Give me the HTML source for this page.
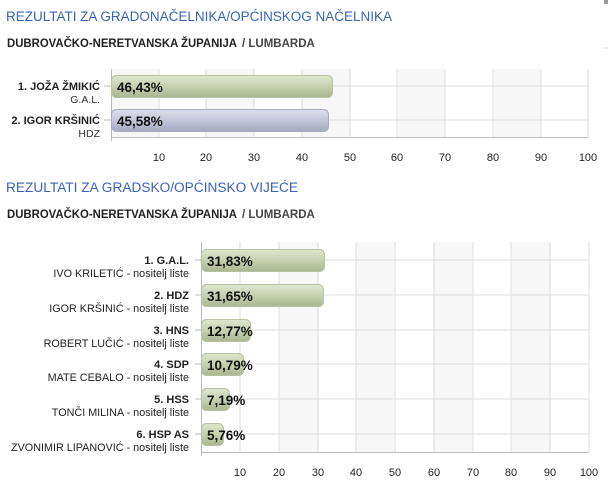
<!DOCTYPE html>
<html><head><meta charset="utf-8"><style>
body{margin:0;background:#fff;width:608px;height:483px;overflow:hidden}
svg text{font-family:"Liberation Sans",Arial,sans-serif}
</style></head><body>
<svg width="608" height="483" xmlns="http://www.w3.org/2000/svg">
<defs>
<linearGradient id="g" x1="0" y1="0" x2="0" y2="1"><stop offset="0" stop-color="#dfe6cf"/><stop offset="0.5" stop-color="#c5d0af"/><stop offset="1" stop-color="#a9b690"/></linearGradient>
<linearGradient id="b" x1="0" y1="0" x2="0" y2="1"><stop offset="0" stop-color="#dcdeea"/><stop offset="0.5" stop-color="#c3c6d8"/><stop offset="1" stop-color="#a5a9be"/></linearGradient>
</defs>
<text x="6" y="21" font-size="13.5" fill="#3a63b8" textLength="386" lengthAdjust="spacingAndGlyphs">REZULTATI ZA GRADONAČELNIKA/OPĆINSKOG NAČELNIKA</text>
<text x="7" y="47" font-size="11.5" font-weight="bold" fill="#222" textLength="230" lengthAdjust="spacingAndGlyphs">DUBROVAČKO-NERETVANSKA ŽUPANIJA</text>
<text x="242" y="47" font-size="11.5" font-weight="bold" fill="#444">/ LUMBARDA</text>
<!-- chart 1 -->
<g>
<rect x="111" y="69" width="477" height="68" fill="#fff"/>
<rect x="111" y="69" width="48" height="68" fill="#f7f7f7"/>
<rect x="206" y="69" width="48" height="68" fill="#f7f7f7"/>
<rect x="302" y="69" width="48" height="68" fill="#f7f7f7"/>
<rect x="397" y="69" width="48" height="68" fill="#f7f7f7"/>
<rect x="493" y="69" width="48" height="68" fill="#f7f7f7"/>
<g stroke="#ddd" stroke-width="1">
<line x1="159" y1="69" x2="159" y2="137"/><line x1="206" y1="69" x2="206" y2="137"/><line x1="254" y1="69" x2="254" y2="137"/><line x1="302" y1="69" x2="302" y2="137"/><line x1="350" y1="69" x2="350" y2="137"/><line x1="397" y1="69" x2="397" y2="137"/><line x1="445" y1="69" x2="445" y2="137"/><line x1="493" y1="69" x2="493" y2="137"/><line x1="541" y1="69" x2="541" y2="137"/><line x1="588" y1="69" x2="588" y2="137"/>
<line x1="111" y1="86" x2="588" y2="86"/><line x1="111" y1="120" x2="588" y2="120"/>
</g>
<line x1="111.5" y1="69" x2="111.5" y2="141" stroke="#bbb"/>
<line x1="111" y1="137.5" x2="588" y2="137.5" stroke="#bbb"/>
<line x1="104" y1="86" x2="111" y2="86" stroke="#bbb"/><line x1="104" y1="120" x2="111" y2="120" stroke="#bbb"/>
<rect x="111.5" y="75.5" width="221" height="22" rx="5" fill="url(#g)" stroke="#b7c2a0"/>
<rect x="111.5" y="109.5" width="217" height="22" rx="5" fill="url(#b)" stroke="#a9adc0"/>
<text x="117" y="92" font-size="13.5" font-weight="bold" fill="#111">46,43%</text>
<text x="117" y="126" font-size="13.5" font-weight="bold" fill="#111">45,58%</text>
<g text-anchor="end">
<text x="100" y="90" font-size="11" font-weight="bold" fill="#222">1. JOŽA ŽMIKIĆ</text>
<text x="100" y="103" font-size="10.5" fill="#333">G.A.L.</text>
<text x="100" y="124" font-size="11" font-weight="bold" fill="#222">2. IGOR KRŠINIĆ</text>
<text x="100" y="137" font-size="10.5" fill="#333">HDZ</text>
</g>
<g font-size="11" fill="#222" text-anchor="middle">
<text x="159" y="161">10</text><text x="206" y="161">20</text><text x="254" y="161">30</text><text x="302" y="161">40</text><text x="350" y="161">50</text><text x="397" y="161">60</text><text x="445" y="161">70</text><text x="493" y="161">80</text><text x="541" y="161">90</text><text x="588" y="161">100</text>
</g>
</g>
<text x="6" y="192" font-size="13.5" fill="#3a63b8" textLength="292" lengthAdjust="spacingAndGlyphs">REZULTATI ZA GRADSKO/OPĆINSKO VIJEĆE</text>
<text x="7" y="218" font-size="11.5" font-weight="bold" fill="#222" textLength="230" lengthAdjust="spacingAndGlyphs">DUBROVAČKO-NERETVANSKA ŽUPANIJA</text>
<text x="242" y="218" font-size="11.5" font-weight="bold" fill="#444">/ LUMBARDA</text>
<!-- chart 2 -->
<g>
<rect x="201" y="242" width="388" height="210" fill="#fff"/>
<rect x="279" y="242" width="39" height="210" fill="#f7f7f7"/>
<rect x="356" y="242" width="39" height="210" fill="#f7f7f7"/>
<rect x="434" y="242" width="39" height="210" fill="#f7f7f7"/>
<rect x="511" y="242" width="39" height="210" fill="#f7f7f7"/>
<g stroke="#ddd">
<line x1="240" y1="242" x2="240" y2="452"/><line x1="279" y1="242" x2="279" y2="452"/><line x1="318" y1="242" x2="318" y2="452"/><line x1="356" y1="242" x2="356" y2="452"/><line x1="395" y1="242" x2="395" y2="452"/><line x1="434" y1="242" x2="434" y2="452"/><line x1="473" y1="242" x2="473" y2="452"/><line x1="511" y1="242" x2="511" y2="452"/><line x1="550" y1="242" x2="550" y2="452"/><line x1="589" y1="242" x2="589" y2="452"/>
<line x1="201" y1="260" x2="589" y2="260"/><line x1="201" y1="295" x2="589" y2="295"/><line x1="201" y1="330" x2="589" y2="330"/><line x1="201" y1="364" x2="589" y2="364"/><line x1="201" y1="399" x2="589" y2="399"/><line x1="201" y1="434" x2="589" y2="434"/>
</g>
<line x1="201.5" y1="242" x2="201.5" y2="456" stroke="#bbb"/>
<line x1="201" y1="452.5" x2="589" y2="452.5" stroke="#bbb"/>
<g stroke="#bbb"><line x1="195" y1="260" x2="201" y2="260"/><line x1="195" y1="295" x2="201" y2="295"/><line x1="195" y1="330" x2="201" y2="330"/><line x1="195" y1="364" x2="201" y2="364"/><line x1="195" y1="399" x2="201" y2="399"/><line x1="195" y1="434" x2="201" y2="434"/></g>
<g fill="url(#g)" stroke="#b7c2a0">
<rect x="201.5" y="249.5" width="123" height="22" rx="5"/>
<rect x="201.5" y="284.5" width="122" height="22" rx="5"/>
<rect x="201.5" y="319.5" width="49" height="22" rx="5"/>
<rect x="201.5" y="353.5" width="42" height="22" rx="5"/>
<rect x="201.5" y="388.5" width="28" height="22" rx="5"/>
<rect x="201.5" y="423.5" width="22" height="22" rx="5"/>
</g>
<g font-size="13.5" font-weight="bold" fill="#111">
<text x="207" y="266">31,83%</text><text x="207" y="301">31,65%</text><text x="207" y="336">12,77%</text><text x="207" y="370">10,79%</text><text x="207" y="405">7,19%</text><text x="207" y="440">5,76%</text>
</g>
<g text-anchor="end" fill="#222">
<text x="189" y="264" font-size="11" font-weight="bold">1. G.A.L.</text><text x="189" y="277" font-size="10.8">IVO KRILETIĆ - nositelj liste</text>
<text x="189" y="299" font-size="11" font-weight="bold">2. HDZ</text><text x="189" y="312" font-size="10.8">IGOR KRŠINIĆ - nositelj liste</text>
<text x="189" y="334" font-size="11" font-weight="bold">3. HNS</text><text x="189" y="347" font-size="10.8">ROBERT LUČIĆ - nositelj liste</text>
<text x="189" y="368" font-size="11" font-weight="bold">4. SDP</text><text x="189" y="381" font-size="10.8">MATE CEBALO - nositelj liste</text>
<text x="189" y="403" font-size="11" font-weight="bold">5. HSS</text><text x="189" y="416" font-size="10.8">TONČI MILINA - nositelj liste</text>
<text x="189" y="438" font-size="11" font-weight="bold">6. HSP AS</text><text x="189" y="451" font-size="10.8">ZVONIMIR LIPANOVIĆ - nositelj liste</text>
</g>
<g font-size="11" fill="#222" text-anchor="middle">
<text x="240" y="476">10</text><text x="279" y="476">20</text><text x="318" y="476">30</text><text x="356" y="476">40</text><text x="395" y="476">50</text><text x="434" y="476">60</text><text x="473" y="476">70</text><text x="511" y="476">80</text><text x="550" y="476">90</text><text x="589" y="476">100</text>
</g>
</g>
<rect x="604" y="0" width="4" height="4" fill="#999"/>
<line x1="604" y1="48" x2="608" y2="48" stroke="#ddd"/>
</svg>
</body></html>
